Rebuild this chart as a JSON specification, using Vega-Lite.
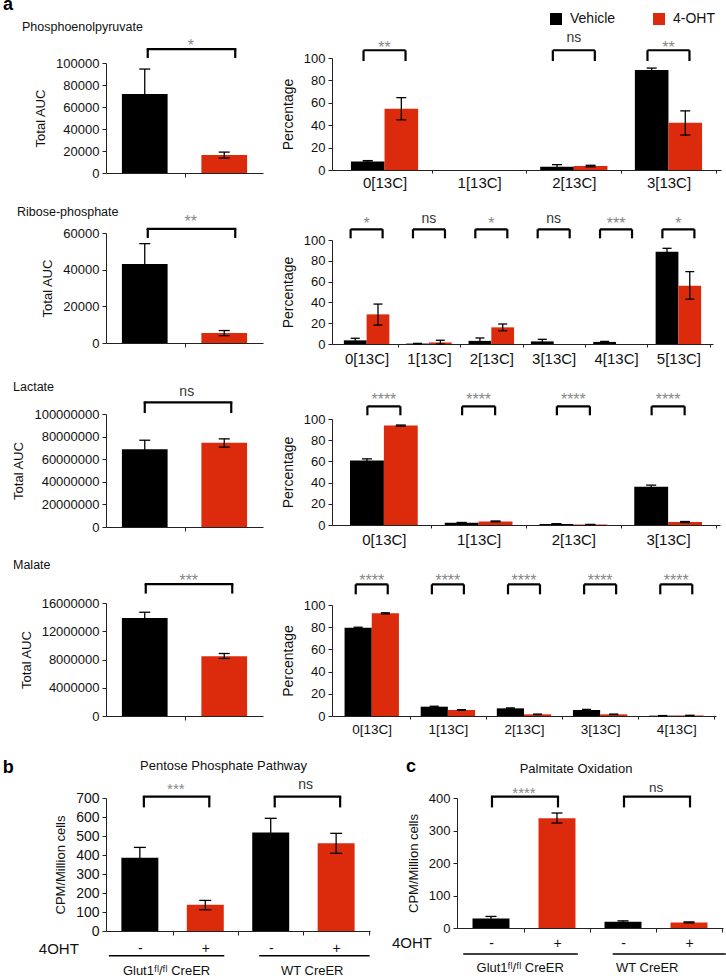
{
  "$schema": "https://vega.github.io/schema/vega-lite/v6.json",
  "padding": {"left": 2, "top": -4, "right": 2, "bottom": 2},
  "title": {"text": "a", "anchor": "start", "frame": "group", "dx": -103, "offset": -2, "fontSize": 18, "fontWeight": "bold", "color": "#000"},
  "config": {
    "font": "Liberation Sans",
    "view": {"stroke": null},
    "axis": {"grid": false, "domainColor": "#222", "tickColor": "#222", "labelColor": "#111", "titleColor": "#111", "titleFontWeight": "normal", "labelFont": "Liberation Sans", "titleFont": "Liberation Sans", "tickSize": 4, "labelPadding": 3, "labelFontSize": 13, "titleFontSize": 13, "titlePadding": 8, "labelAngle": 0, "labelOverlap": false},
    "title": {"font": "Liberation Sans", "fontWeight": "normal", "color": "#111", "fontSize": 12.5, "anchor": "start", "frame": "group"},
    "text": {"font": "Liberation Sans"},
    "tick": {"opacity": 1}
  },
  "datasets": {
    "pep_auc": [{"group": "Vehicle", "v": 71800, "lo": 49100, "hi": 94500}, {"group": "4-OHT", "v": 16300, "lo": 13600, "hi": 19000}],
    "pep_sig": [{"from": "Vehicle", "to": "4-OHT", "sig": "*"}],
    "rib_auc": [{"group": "Vehicle", "v": 43100, "lo": 32000, "hi": 54200}, {"group": "4-OHT", "v": 5400, "lo": 4000, "hi": 6800}],
    "rib_sig": [{"from": "Vehicle", "to": "4-OHT", "sig": "**"}],
    "lac_auc": [{"group": "Vehicle", "v": 68700000, "lo": 60600000, "hi": 76800000}, {"group": "4-OHT", "v": 74500000, "lo": 70700000, "hi": 78000000}],
    "lac_sig": [{"from": "Vehicle", "to": "4-OHT", "sig": "ns"}],
    "mal_auc": [{"group": "Vehicle", "v": 13880000, "lo": 13070000, "hi": 14690000}, {"group": "4-OHT", "v": 8470000, "lo": 8150000, "hi": 8850000}],
    "mal_sig": [{"from": "Vehicle", "to": "4-OHT", "sig": "***"}],
    "pep_pct": [
      {"cat": "0[13C]", "group": "Vehicle", "v": 7.7, "lo": 7.0, "hi": 8.4},
      {"cat": "0[13C]", "group": "4-OHT", "v": 54.6, "lo": 44.8, "hi": 64.6},
      {"cat": "1[13C]", "group": "Vehicle", "v": 0},
      {"cat": "1[13C]", "group": "4-OHT", "v": 0},
      {"cat": "2[13C]", "group": "Vehicle", "v": 3.0, "lo": 1.5, "hi": 4.8},
      {"cat": "2[13C]", "group": "4-OHT", "v": 3.5, "lo": 2.8, "hi": 4.2},
      {"cat": "3[13C]", "group": "Vehicle", "v": 89.3, "lo": 87.6, "hi": 91.0},
      {"cat": "3[13C]", "group": "4-OHT", "v": 42.1, "lo": 31.2, "hi": 52.8}
    ],
    "pep_psig": [{"cat": "0[13C]", "sig": "**"}, {"cat": "2[13C]", "sig": "ns"}, {"cat": "3[13C]", "sig": "**"}],
    "rib_pct": [
      {"cat": "0[13C]", "group": "Vehicle", "v": 3.5, "lo": 1.5, "hi": 5.5},
      {"cat": "0[13C]", "group": "4-OHT", "v": 28.5, "lo": 18.2, "hi": 38.4},
      {"cat": "1[13C]", "group": "Vehicle", "v": 0.4, "lo": 0.2, "hi": 0.6},
      {"cat": "1[13C]", "group": "4-OHT", "v": 1.5, "lo": 0, "hi": 3.6},
      {"cat": "2[13C]", "group": "Vehicle", "v": 3.0, "lo": 0.5, "hi": 5.8},
      {"cat": "2[13C]", "group": "4-OHT", "v": 16.0, "lo": 12.8, "hi": 19.2},
      {"cat": "3[13C]", "group": "Vehicle", "v": 2.5, "lo": 1.0, "hi": 4.5},
      {"cat": "3[13C]", "group": "4-OHT", "v": 0},
      {"cat": "4[13C]", "group": "Vehicle", "v": 2.0, "lo": 1.5, "hi": 2.5},
      {"cat": "4[13C]", "group": "4-OHT", "v": 0},
      {"cat": "5[13C]", "group": "Vehicle", "v": 88.8, "lo": 85.6, "hi": 92.0},
      {"cat": "5[13C]", "group": "4-OHT", "v": 55.9, "lo": 43.1, "hi": 69.6}
    ],
    "rib_psig": [{"cat": "0[13C]", "sig": "*"}, {"cat": "1[13C]", "sig": "ns"}, {"cat": "2[13C]", "sig": "*"}, {"cat": "3[13C]", "sig": "ns"}, {"cat": "4[13C]", "sig": "***"}, {"cat": "5[13C]", "sig": "*"}],
    "lac_pct": [
      {"cat": "0[13C]", "group": "Vehicle", "v": 60.9, "lo": 59.4, "hi": 62.4},
      {"cat": "0[13C]", "group": "4-OHT", "v": 93.8, "lo": 93.3, "hi": 94.3},
      {"cat": "1[13C]", "group": "Vehicle", "v": 2.2, "lo": 2.0, "hi": 2.4},
      {"cat": "1[13C]", "group": "4-OHT", "v": 3.4, "lo": 3.0, "hi": 3.8},
      {"cat": "2[13C]", "group": "Vehicle", "v": 1.0, "lo": 0.8, "hi": 1.2},
      {"cat": "2[13C]", "group": "4-OHT", "v": 0.5, "lo": 0.4, "hi": 0.6},
      {"cat": "3[13C]", "group": "Vehicle", "v": 36.1, "lo": 34.6, "hi": 37.6},
      {"cat": "3[13C]", "group": "4-OHT", "v": 2.8, "lo": 2.3, "hi": 3.3}
    ],
    "lac_psig": [{"cat": "0[13C]", "sig": "****"}, {"cat": "1[13C]", "sig": "****"}, {"cat": "2[13C]", "sig": "****"}, {"cat": "3[13C]", "sig": "****"}],
    "mal_pct": [
      {"cat": "0[13C]", "group": "Vehicle", "v": 79.5, "lo": 79.0, "hi": 80.0},
      {"cat": "0[13C]", "group": "4-OHT", "v": 92.5, "lo": 92.0, "hi": 93.0},
      {"cat": "1[13C]", "group": "Vehicle", "v": 8.4, "lo": 8.0, "hi": 8.8},
      {"cat": "1[13C]", "group": "4-OHT", "v": 5.4, "lo": 5.1, "hi": 5.7},
      {"cat": "2[13C]", "group": "Vehicle", "v": 6.9, "lo": 6.5, "hi": 7.3},
      {"cat": "2[13C]", "group": "4-OHT", "v": 1.5, "lo": 1.3, "hi": 1.7},
      {"cat": "3[13C]", "group": "Vehicle", "v": 5.4, "lo": 4.9, "hi": 5.9},
      {"cat": "3[13C]", "group": "4-OHT", "v": 1.5, "lo": 1.3, "hi": 1.7},
      {"cat": "4[13C]", "group": "Vehicle", "v": 0.3, "lo": 0.2, "hi": 0.4},
      {"cat": "4[13C]", "group": "4-OHT", "v": 0.5, "lo": 0.4, "hi": 0.6}
    ],
    "mal_psig": [{"cat": "0[13C]", "sig": "****"}, {"cat": "1[13C]", "sig": "****"}, {"cat": "2[13C]", "sig": "****"}, {"cat": "3[13C]", "sig": "****"}, {"cat": "4[13C]", "sig": "****"}],
    "ppp": [
      {"cond": "Glut1-", "group": "Vehicle", "v": 385, "lo": 330, "hi": 440},
      {"cond": "Glut1+", "group": "4-OHT", "v": 138, "lo": 112, "hi": 161},
      {"cond": "WT-", "group": "Vehicle", "v": 519, "lo": 445, "hi": 593},
      {"cond": "WT+", "group": "4-OHT", "v": 462, "lo": 409, "hi": 514}
    ],
    "ppp_sig": [{"from": "Glut1-", "to": "Glut1+", "sig": "***"}, {"from": "WT-", "to": "WT+", "sig": "ns"}],
    "pal": [
      {"cond": "Glut1-", "group": "Vehicle", "v": 29.5, "lo": 24, "hi": 35.6},
      {"cond": "Glut1+", "group": "4-OHT", "v": 338, "lo": 323, "hi": 353.8},
      {"cond": "WT-", "group": "Vehicle", "v": 19.4, "lo": 17, "hi": 22},
      {"cond": "WT+", "group": "4-OHT", "v": 17.3, "lo": 15.8, "hi": 18.8}
    ],
    "pal_sig": [{"from": "Glut1-", "to": "Glut1+", "sig": "****"}, {"from": "WT-", "to": "WT+", "sig": "ns"}],
    "geno": [{"from": "Glut1-", "to": "Glut1+", "name": "Glut1ᶠˡ/ᶠˡ CreER"}, {"from": "WT-", "to": "WT+", "name": "WT CreER"}]
  },
  "resolve": {"scale": {"xOffset": "independent"}, "legend": {"color": "independent"}},
  "spacing": 21,
  "vconcat": [
    {
      "columns": 2,
      "spacing": {"row": 60, "column": 69},
      "bounds": "flush",
      "align": "each",
      "resolve": {"scale": {"xOffset": "independent"}, "legend": {"color": "independent"}},
      "concat": [
        {
          "width": 157, "height": 115,
          "title": {"text": "Phosphoenolpyruvate", "dx": -84, "offset": 4.3},
          "layer": [
            {"data": {"name": "pep_auc"}, "mark": "bar", "encoding": {
              "x": {"field": "group", "type": "nominal", "scale": {"domain": ["Vehicle", "4-OHT"], "paddingInner": 0.425, "paddingOuter": 0.2}, "axis": {"labels": false, "title": null, "values": ["Vehicle"], "tickOffset": 40}},
              "y": {"field": "v", "type": "quantitative", "scale": {"domain": [0, 100000], "nice": false, "range": [115, 5]}, "axis": {"title": "Total AUC", "values": [0, 20000, 40000, 60000, 80000, 100000], "tickCount": 20, "labelOverlap": false, "format": "d"}},
              "color": {"field": "group", "type": "nominal", "scale": {"domain": ["Vehicle", "4-OHT"], "range": ["#000000", "#dc2a0c"]}, "legend": null}}},
            {"data": {"name": "pep_auc"}, "mark": {"type": "rule", "color": "#000", "strokeWidth": 1.3}, "encoding": {"x": {"field": "group", "type": "nominal"}, "y": {"field": "lo", "type": "quantitative"}, "y2": {"field": "hi"}}},
            {"data": {"name": "pep_auc"}, "mark": {"type": "tick", "orient": "horizontal", "color": "#000", "size": 11, "thickness": 1.3}, "encoding": {"x": {"field": "group", "type": "nominal"}, "y": {"field": "hi", "type": "quantitative"}}},
            {"data": {"name": "pep_auc"}, "mark": {"type": "tick", "orient": "horizontal", "color": "#000", "size": 11, "thickness": 1.3}, "encoding": {"x": {"field": "group", "type": "nominal"}, "y": {"field": "lo", "type": "quantitative"}}},
            {"data": {"name": "pep_sig"}, "mark": {"type": "rule", "color": "#000", "strokeWidth": 2.2, "strokeCap": "square", "xOffset": 3, "x2Offset": 11}, "encoding": {"x": {"field": "from", "type": "nominal"}, "x2": {"field": "to"}, "y": {"datum": 112700}}},
            {"data": {"name": "pep_sig"}, "mark": {"type": "rule", "color": "#000", "strokeWidth": 2.2, "xOffset": 3}, "encoding": {"x": {"field": "from", "type": "nominal"}, "y": {"datum": 104500}, "y2": {"datum": 112700}}},
            {"data": {"name": "pep_sig"}, "mark": {"type": "rule", "color": "#000", "strokeWidth": 2.2, "xOffset": 11}, "encoding": {"x": {"field": "to", "type": "nominal"}, "y": {"datum": 104500}, "y2": {"datum": 112700}}},
            {"data": {"name": "pep_sig"}, "transform": [{"filter": "datum.sig != 'ns'"}], "mark": {"type": "text", "fontSize": 16, "color": "#888", "dx": 46, "dy": 5}, "encoding": {"x": {"field": "from", "type": "nominal"}, "y": {"datum": 120000}, "text": {"field": "sig"}}}
          ]
        },
        {
          "width": 389, "height": 112,
          "layer": [
            {"data": {"name": "pep_pct"}, "mark": "bar", "encoding": {
              "x": {"field": "cat", "type": "nominal", "scale": {"domain": ["0[13C]", "1[13C]", "2[13C]", "3[13C]"], "paddingInner": 0.29, "paddingOuter": 0.2}, "axis": {"title": null, "tickSize": 3, "tickOffset": 47.3, "labelOffset": -47.3, "labelPadding": 2, "labelFontSize": 15}},
              "xOffset": {"field": "group", "type": "nominal", "scale": {"domain": ["Vehicle", "4-OHT"], "paddingInner": 0, "paddingOuter": 0}},
              "y": {"field": "v", "type": "quantitative", "scale": {"domain": [0, 100], "nice": false}, "axis": {"title": "Percentage", "titleFontSize": 14, "values": [0, 20, 40, 60, 80, 100], "tickCount": 20, "labelOverlap": false}},
              "color": {"field": "group", "type": "nominal", "scale": {"domain": ["Vehicle", "4-OHT"], "range": ["#000000", "#dc2a0c"]}, "legend": {"orient": "none", "legendX": 217, "legendY": -46, "direction": "horizontal", "title": null, "symbolType": "square", "symbolSize": 144, "symbolStrokeWidth": 0, "labelFontSize": 14, "labelFont": "Liberation Sans", "labelColor": "#111", "labelOffset": 7, "columnPadding": 36}}}},
            {"data": {"name": "pep_pct"}, "mark": {"type": "rule", "color": "#000", "strokeWidth": 1.3}, "encoding": {"x": {"field": "cat", "type": "nominal"}, "xOffset": {"field": "group", "type": "nominal"}, "y": {"field": "lo", "type": "quantitative"}, "y2": {"field": "hi"}}},
            {"data": {"name": "pep_pct"}, "mark": {"type": "tick", "orient": "horizontal", "color": "#000", "size": 10, "thickness": 1.3}, "encoding": {"x": {"field": "cat", "type": "nominal"}, "xOffset": {"field": "group", "type": "nominal"}, "y": {"field": "hi", "type": "quantitative"}}},
            {"data": {"name": "pep_pct"}, "mark": {"type": "tick", "orient": "horizontal", "color": "#000", "size": 10, "thickness": 1.3}, "encoding": {"x": {"field": "cat", "type": "nominal"}, "xOffset": {"field": "group", "type": "nominal"}, "y": {"field": "lo", "type": "quantitative"}}},
            {"data": {"name": "pep_psig"}, "mark": {"type": "tick", "orient": "horizontal", "color": "#000", "size": 42, "thickness": 2.2}, "encoding": {"x": {"field": "cat", "type": "nominal"}, "y": {"datum": 106.9}}},
            {"data": {"name": "pep_psig"}, "mark": {"type": "rule", "color": "#000", "strokeWidth": 2.2, "xOffset": -21}, "encoding": {"x": {"field": "cat", "type": "nominal"}, "y": {"datum": 97.3}, "y2": {"datum": 106.9}}},
            {"data": {"name": "pep_psig"}, "mark": {"type": "rule", "color": "#000", "strokeWidth": 2.2, "xOffset": 21}, "encoding": {"x": {"field": "cat", "type": "nominal"}, "y": {"datum": 97.3}, "y2": {"datum": 106.9}}},
            {"data": {"name": "pep_psig"}, "transform": [{"filter": "datum.sig != 'ns'"}], "mark": {"type": "text", "fontSize": 16, "color": "#888", "dy": 5}, "encoding": {"x": {"field": "cat", "type": "nominal"}, "y": {"datum": 113.6}, "text": {"field": "sig"}}},
            {"data": {"name": "pep_psig"}, "transform": [{"filter": "datum.sig == 'ns'"}], "mark": {"type": "text", "fontSize": 14, "color": "#333"}, "encoding": {"x": {"field": "cat", "type": "nominal"}, "y": {"datum": 117.8}, "text": {"field": "sig"}}}
          ]
        },
        {
          "width": 157, "height": 110,
          "title": {"text": "Ribose-phosphate", "dx": -89, "offset": -4.4},
          "layer": [
            {"data": {"name": "rib_auc"}, "mark": "bar", "encoding": {
              "x": {"field": "group", "type": "nominal", "scale": {"domain": ["Vehicle", "4-OHT"], "paddingInner": 0.425, "paddingOuter": 0.2}, "axis": {"labels": false, "title": null, "values": ["Vehicle"], "tickOffset": 40}},
              "y": {"field": "v", "type": "quantitative", "scale": {"domain": [0, 60000], "nice": false}, "axis": {"title": "Total AUC", "values": [0, 20000, 40000, 60000], "tickCount": 20, "labelOverlap": false, "format": "d"}},
              "color": {"field": "group", "type": "nominal", "scale": {"domain": ["Vehicle", "4-OHT"], "range": ["#000000", "#dc2a0c"]}, "legend": null}}},
            {"data": {"name": "rib_auc"}, "mark": {"type": "rule", "color": "#000", "strokeWidth": 1.3}, "encoding": {"x": {"field": "group", "type": "nominal"}, "y": {"field": "lo", "type": "quantitative"}, "y2": {"field": "hi"}}},
            {"data": {"name": "rib_auc"}, "mark": {"type": "tick", "orient": "horizontal", "color": "#000", "size": 11, "thickness": 1.3}, "encoding": {"x": {"field": "group", "type": "nominal"}, "y": {"field": "hi", "type": "quantitative"}}},
            {"data": {"name": "rib_auc"}, "mark": {"type": "tick", "orient": "horizontal", "color": "#000", "size": 11, "thickness": 1.3}, "encoding": {"x": {"field": "group", "type": "nominal"}, "y": {"field": "lo", "type": "quantitative"}}},
            {"data": {"name": "rib_sig"}, "mark": {"type": "rule", "color": "#000", "strokeWidth": 2.2, "strokeCap": "square", "xOffset": 3, "x2Offset": 11}, "encoding": {"x": {"field": "from", "type": "nominal"}, "x2": {"field": "to"}, "y": {"datum": 62200}}},
            {"data": {"name": "rib_sig"}, "mark": {"type": "rule", "color": "#000", "strokeWidth": 2.2, "xOffset": 3}, "encoding": {"x": {"field": "from", "type": "nominal"}, "y": {"datum": 57300}, "y2": {"datum": 62200}}},
            {"data": {"name": "rib_sig"}, "mark": {"type": "rule", "color": "#000", "strokeWidth": 2.2, "xOffset": 11}, "encoding": {"x": {"field": "to", "type": "nominal"}, "y": {"datum": 57300}, "y2": {"datum": 62200}}},
            {"data": {"name": "rib_sig"}, "transform": [{"filter": "datum.sig != 'ns'"}], "mark": {"type": "text", "fontSize": 16, "color": "#888", "dx": 46, "dy": 5}, "encoding": {"x": {"field": "from", "type": "nominal"}, "y": {"datum": 68560}, "text": {"field": "sig"}}}
          ]
        },
        {
          "width": 381, "height": 111,
          "layer": [
            {"data": {"name": "rib_pct"}, "mark": "bar", "encoding": {
              "x": {"field": "cat", "type": "nominal", "scale": {"domain": ["0[13C]", "1[13C]", "2[13C]", "3[13C]", "4[13C]", "5[13C]"], "paddingInner": 0.27, "paddingOuter": 0.19}, "axis": {"title": null, "tickSize": 3, "tickOffset": 31.2, "labelOffset": -31.2, "labelPadding": 4, "labelFontSize": 15}},
              "xOffset": {"field": "group", "type": "nominal", "scale": {"domain": ["Vehicle", "4-OHT"], "paddingInner": 0, "paddingOuter": 0}},
              "y": {"field": "v", "type": "quantitative", "scale": {"domain": [0, 100], "nice": false, "range": [111, 7]}, "axis": {"title": "Percentage", "titleFontSize": 14, "values": [0, 20, 40, 60, 80, 100], "tickCount": 20, "labelOverlap": false}},
              "color": {"field": "group", "type": "nominal", "scale": {"domain": ["Vehicle", "4-OHT"], "range": ["#000000", "#dc2a0c"]}, "legend": null}}},
            {"data": {"name": "rib_pct"}, "mark": {"type": "rule", "color": "#000", "strokeWidth": 1.3}, "encoding": {"x": {"field": "cat", "type": "nominal"}, "xOffset": {"field": "group", "type": "nominal"}, "y": {"field": "lo", "type": "quantitative"}, "y2": {"field": "hi"}}},
            {"data": {"name": "rib_pct"}, "mark": {"type": "tick", "orient": "horizontal", "color": "#000", "size": 9, "thickness": 1.3}, "encoding": {"x": {"field": "cat", "type": "nominal"}, "xOffset": {"field": "group", "type": "nominal"}, "y": {"field": "hi", "type": "quantitative"}}},
            {"data": {"name": "rib_pct"}, "mark": {"type": "tick", "orient": "horizontal", "color": "#000", "size": 9, "thickness": 1.3}, "encoding": {"x": {"field": "cat", "type": "nominal"}, "xOffset": {"field": "group", "type": "nominal"}, "y": {"field": "lo", "type": "quantitative"}}},
            {"data": {"name": "rib_psig"}, "mark": {"type": "tick", "orient": "horizontal", "color": "#000", "size": 32, "thickness": 2.2}, "encoding": {"x": {"field": "cat", "type": "nominal"}, "y": {"datum": 110.3}}},
            {"data": {"name": "rib_psig"}, "mark": {"type": "rule", "color": "#000", "strokeWidth": 2.2, "xOffset": -16}, "encoding": {"x": {"field": "cat", "type": "nominal"}, "y": {"datum": 101.6}, "y2": {"datum": 110.3}}},
            {"data": {"name": "rib_psig"}, "mark": {"type": "rule", "color": "#000", "strokeWidth": 2.2, "xOffset": 16}, "encoding": {"x": {"field": "cat", "type": "nominal"}, "y": {"datum": 101.6}, "y2": {"datum": 110.3}}},
            {"data": {"name": "rib_psig"}, "transform": [{"filter": "datum.sig != 'ns'"}], "mark": {"type": "text", "fontSize": 16, "color": "#888", "dy": 5}, "encoding": {"x": {"field": "cat", "type": "nominal"}, "y": {"datum": 119.8}, "text": {"field": "sig"}}},
            {"data": {"name": "rib_psig"}, "transform": [{"filter": "datum.sig == 'ns'"}], "mark": {"type": "text", "fontSize": 14, "color": "#333"}, "encoding": {"x": {"field": "cat", "type": "nominal"}, "y": {"datum": 119.8}, "text": {"field": "sig"}}}
          ]
        },
        {
          "width": 157, "height": 123,
          "title": {"text": "Lactate", "dx": -93, "offset": -8.6},
          "layer": [
            {"data": {"name": "lac_auc"}, "mark": "bar", "encoding": {
              "x": {"field": "group", "type": "nominal", "scale": {"domain": ["Vehicle", "4-OHT"], "paddingInner": 0.425, "paddingOuter": 0.2}, "axis": {"labels": false, "title": null, "values": ["Vehicle"], "tickOffset": 40}},
              "y": {"field": "v", "type": "quantitative", "scale": {"domain": [0, 100000000], "nice": false, "range": [123, 10]}, "axis": {"title": "Total AUC", "values": [0, 20000000, 40000000, 60000000, 80000000, 100000000], "tickCount": 20, "labelOverlap": false, "format": "d"}},
              "color": {"field": "group", "type": "nominal", "scale": {"domain": ["Vehicle", "4-OHT"], "range": ["#000000", "#dc2a0c"]}, "legend": null}}},
            {"data": {"name": "lac_auc"}, "mark": {"type": "rule", "color": "#000", "strokeWidth": 1.3}, "encoding": {"x": {"field": "group", "type": "nominal"}, "y": {"field": "lo", "type": "quantitative"}, "y2": {"field": "hi"}}},
            {"data": {"name": "lac_auc"}, "mark": {"type": "tick", "orient": "horizontal", "color": "#000", "size": 11, "thickness": 1.3}, "encoding": {"x": {"field": "group", "type": "nominal"}, "y": {"field": "hi", "type": "quantitative"}}},
            {"data": {"name": "lac_auc"}, "mark": {"type": "tick", "orient": "horizontal", "color": "#000", "size": 11, "thickness": 1.3}, "encoding": {"x": {"field": "group", "type": "nominal"}, "y": {"field": "lo", "type": "quantitative"}}},
            {"data": {"name": "lac_sig"}, "mark": {"type": "rule", "color": "#000", "strokeWidth": 2.2, "strokeCap": "square", "xOffset": 0, "x2Offset": 7}, "encoding": {"x": {"field": "from", "type": "nominal"}, "x2": {"field": "to"}, "y": {"datum": 110300000}}},
            {"data": {"name": "lac_sig"}, "mark": {"type": "rule", "color": "#000", "strokeWidth": 2.2, "xOffset": 0}, "encoding": {"x": {"field": "from", "type": "nominal"}, "y": {"datum": 100900000}, "y2": {"datum": 110300000}}},
            {"data": {"name": "lac_sig"}, "mark": {"type": "rule", "color": "#000", "strokeWidth": 2.2, "xOffset": 7}, "encoding": {"x": {"field": "to", "type": "nominal"}, "y": {"datum": 100900000}, "y2": {"datum": 110300000}}},
            {"data": {"name": "lac_sig"}, "transform": [{"filter": "datum.sig == 'ns'"}], "mark": {"type": "text", "fontSize": 14, "color": "#333", "dx": 42}, "encoding": {"x": {"field": "from", "type": "nominal"}, "y": {"datum": 119400000}, "text": {"field": "sig"}}}
          ]
        },
        {
          "width": 388, "height": 121,
          "layer": [
            {"data": {"name": "lac_pct"}, "mark": "bar", "encoding": {
              "x": {"field": "cat", "type": "nominal", "scale": {"domain": ["0[13C]", "1[13C]", "2[13C]", "3[13C]"], "paddingInner": 0.285, "paddingOuter": 0.19}, "axis": {"title": null, "tickSize": 3, "tickOffset": 47.4, "labelOffset": -47.4, "labelPadding": 4, "labelFontSize": 15}},
              "xOffset": {"field": "group", "type": "nominal", "scale": {"domain": ["Vehicle", "4-OHT"], "paddingInner": 0, "paddingOuter": 0}},
              "y": {"field": "v", "type": "quantitative", "scale": {"domain": [0, 100], "nice": false, "range": [121, 15]}, "axis": {"title": "Percentage", "titleFontSize": 14, "values": [0, 20, 40, 60, 80, 100], "tickCount": 20, "labelOverlap": false}},
              "color": {"field": "group", "type": "nominal", "scale": {"domain": ["Vehicle", "4-OHT"], "range": ["#000000", "#dc2a0c"]}, "legend": null}}},
            {"data": {"name": "lac_pct"}, "mark": {"type": "rule", "color": "#000", "strokeWidth": 1.3}, "encoding": {"x": {"field": "cat", "type": "nominal"}, "xOffset": {"field": "group", "type": "nominal"}, "y": {"field": "lo", "type": "quantitative"}, "y2": {"field": "hi"}}},
            {"data": {"name": "lac_pct"}, "mark": {"type": "tick", "orient": "horizontal", "color": "#000", "size": 10, "thickness": 1.3}, "encoding": {"x": {"field": "cat", "type": "nominal"}, "xOffset": {"field": "group", "type": "nominal"}, "y": {"field": "hi", "type": "quantitative"}}},
            {"data": {"name": "lac_pct"}, "mark": {"type": "tick", "orient": "horizontal", "color": "#000", "size": 10, "thickness": 1.3}, "encoding": {"x": {"field": "cat", "type": "nominal"}, "xOffset": {"field": "group", "type": "nominal"}, "y": {"field": "lo", "type": "quantitative"}}},
            {"data": {"name": "lac_psig"}, "mark": {"type": "tick", "orient": "horizontal", "color": "#000", "size": 33, "thickness": 2.2}, "encoding": {"x": {"field": "cat", "type": "nominal"}, "y": {"datum": 112}}},
            {"data": {"name": "lac_psig"}, "mark": {"type": "rule", "color": "#000", "strokeWidth": 2.2, "xOffset": -16.5}, "encoding": {"x": {"field": "cat", "type": "nominal"}, "y": {"datum": 103.5}, "y2": {"datum": 112}}},
            {"data": {"name": "lac_psig"}, "mark": {"type": "rule", "color": "#000", "strokeWidth": 2.2, "xOffset": 16.5}, "encoding": {"x": {"field": "cat", "type": "nominal"}, "y": {"datum": 103.5}, "y2": {"datum": 112}}},
            {"data": {"name": "lac_psig"}, "mark": {"type": "text", "fontSize": 16, "color": "#888", "dy": 5}, "encoding": {"x": {"field": "cat", "type": "nominal"}, "y": {"datum": 123}, "text": {"field": "sig"}}}
          ]
        },
        {
          "width": 157, "height": 129,
          "title": {"text": "Malate", "dx": -93, "offset": 1.4},
          "layer": [
            {"data": {"name": "mal_auc"}, "mark": "bar", "encoding": {
              "x": {"field": "group", "type": "nominal", "scale": {"domain": ["Vehicle", "4-OHT"], "paddingInner": 0.425, "paddingOuter": 0.2}, "axis": {"labels": false, "title": null, "values": ["Vehicle"], "tickOffset": 40}},
              "y": {"field": "v", "type": "quantitative", "scale": {"domain": [0, 16000000], "nice": false, "range": [129, 16]}, "axis": {"title": "Total AUC", "values": [0, 4000000, 8000000, 12000000, 16000000], "tickCount": 20, "labelOverlap": false, "format": "d"}},
              "color": {"field": "group", "type": "nominal", "scale": {"domain": ["Vehicle", "4-OHT"], "range": ["#000000", "#dc2a0c"]}, "legend": null}}},
            {"data": {"name": "mal_auc"}, "mark": {"type": "rule", "color": "#000", "strokeWidth": 1.3}, "encoding": {"x": {"field": "group", "type": "nominal"}, "y": {"field": "lo", "type": "quantitative"}, "y2": {"field": "hi"}}},
            {"data": {"name": "mal_auc"}, "mark": {"type": "tick", "orient": "horizontal", "color": "#000", "size": 11, "thickness": 1.3}, "encoding": {"x": {"field": "group", "type": "nominal"}, "y": {"field": "hi", "type": "quantitative"}}},
            {"data": {"name": "mal_auc"}, "mark": {"type": "tick", "orient": "horizontal", "color": "#000", "size": 11, "thickness": 1.3}, "encoding": {"x": {"field": "group", "type": "nominal"}, "y": {"field": "lo", "type": "quantitative"}}},
            {"data": {"name": "mal_sig"}, "mark": {"type": "rule", "color": "#000", "strokeWidth": 2.2, "strokeCap": "square", "xOffset": 1, "x2Offset": 8}, "encoding": {"x": {"field": "from", "type": "nominal"}, "x2": {"field": "to"}, "y": {"datum": 18680000}}},
            {"data": {"name": "mal_sig"}, "mark": {"type": "rule", "color": "#000", "strokeWidth": 2.2, "xOffset": 1}, "encoding": {"x": {"field": "from", "type": "nominal"}, "y": {"datum": 17330000}, "y2": {"datum": 18680000}}},
            {"data": {"name": "mal_sig"}, "mark": {"type": "rule", "color": "#000", "strokeWidth": 2.2, "xOffset": 8}, "encoding": {"x": {"field": "to", "type": "nominal"}, "y": {"datum": 17330000}, "y2": {"datum": 18680000}}},
            {"data": {"name": "mal_sig"}, "mark": {"type": "text", "fontSize": 16, "color": "#888", "dx": 44, "dy": 5}, "encoding": {"x": {"field": "from", "type": "nominal"}, "y": {"datum": 19770000}, "text": {"field": "sig"}}}
          ]
        },
        {
          "width": 384, "height": 129,
          "layer": [
            {"data": {"name": "mal_pct"}, "mark": "bar", "encoding": {
              "x": {"field": "cat", "type": "nominal", "scale": {"domain": ["0[13C]", "1[13C]", "2[13C]", "3[13C]", "4[13C]"], "paddingInner": 0.286, "paddingOuter": 0.165}, "axis": {"title": null, "tickSize": 3, "tickOffset": 38.1, "labelOffset": -38.1, "labelPadding": 3, "labelFontSize": 13.5}},
              "xOffset": {"field": "group", "type": "nominal", "scale": {"domain": ["Vehicle", "4-OHT"], "paddingInner": 0, "paddingOuter": 0}},
              "y": {"field": "v", "type": "quantitative", "scale": {"domain": [0, 100], "nice": false, "range": [129, 18]}, "axis": {"title": "Percentage", "titleFontSize": 14, "values": [0, 20, 40, 60, 80, 100], "tickCount": 20, "labelOverlap": false}},
              "color": {"field": "group", "type": "nominal", "scale": {"domain": ["Vehicle", "4-OHT"], "range": ["#000000", "#dc2a0c"]}, "legend": null}}},
            {"data": {"name": "mal_pct"}, "mark": {"type": "rule", "color": "#000", "strokeWidth": 1.3}, "encoding": {"x": {"field": "cat", "type": "nominal"}, "xOffset": {"field": "group", "type": "nominal"}, "y": {"field": "lo", "type": "quantitative"}, "y2": {"field": "hi"}}},
            {"data": {"name": "mal_pct"}, "mark": {"type": "tick", "orient": "horizontal", "color": "#000", "size": 9, "thickness": 1.3}, "encoding": {"x": {"field": "cat", "type": "nominal"}, "xOffset": {"field": "group", "type": "nominal"}, "y": {"field": "hi", "type": "quantitative"}}},
            {"data": {"name": "mal_pct"}, "mark": {"type": "tick", "orient": "horizontal", "color": "#000", "size": 9, "thickness": 1.3}, "encoding": {"x": {"field": "cat", "type": "nominal"}, "xOffset": {"field": "group", "type": "nominal"}, "y": {"field": "lo", "type": "quantitative"}}},
            {"data": {"name": "mal_psig"}, "mark": {"type": "tick", "orient": "horizontal", "color": "#000", "size": 32, "thickness": 2.2}, "encoding": {"x": {"field": "cat", "type": "nominal"}, "y": {"datum": 118.6}}},
            {"data": {"name": "mal_psig"}, "mark": {"type": "rule", "color": "#000", "strokeWidth": 2.2, "xOffset": -16}, "encoding": {"x": {"field": "cat", "type": "nominal"}, "y": {"datum": 109.6}, "y2": {"datum": 118.6}}},
            {"data": {"name": "mal_psig"}, "mark": {"type": "rule", "color": "#000", "strokeWidth": 2.2, "xOffset": 16}, "encoding": {"x": {"field": "cat", "type": "nominal"}, "y": {"datum": 109.6}, "y2": {"datum": 118.6}}},
            {"data": {"name": "mal_psig"}, "mark": {"type": "text", "fontSize": 16, "color": "#888", "dy": 5}, "encoding": {"x": {"field": "cat", "type": "nominal"}, "y": {"datum": 126}, "text": {"field": "sig"}}}
          ]
        }
      ]
    },
    {
      "spacing": 87,
      "bounds": "flush",
      "resolve": {"legend": {"color": "independent"}},
      "hconcat": [
        {
          "width": 264, "height": 133,
          "title": {"text": "Pentose Phosphate Pathway", "anchor": "middle", "dx": -14.5, "offset": -13.8, "fontSize": 13},
          "layer": [
            {"data": {"name": "ppp"}, "mark": "bar", "encoding": {
              "x": {"field": "cond", "type": "nominal", "scale": {"domain": ["Glut1-", "Glut1+", "WT-", "WT+"], "paddingInner": 0.435, "paddingOuter": 0.235}, "axis": {"title": null, "tickSize": 4, "tickOffset": 32.7, "labelOffset": -32.7, "labelPadding": 6, "labelFontSize": 14, "labelExpr": "indexof(datum.value, '+') >= 0 ? '+' : '-'"}},
              "y": {"field": "v", "type": "quantitative", "scale": {"domain": [0, 700], "nice": false}, "axis": {"title": "CPM/Million cells", "values": [0, 100, 200, 300, 400, 500, 600, 700], "tickCount": 20, "labelOverlap": false, "labelFontSize": 14}},
              "color": {"field": "group", "type": "nominal", "scale": {"domain": ["Vehicle", "4-OHT"], "range": ["#000000", "#dc2a0c"]}, "legend": null}}},
            {"data": {"name": "ppp"}, "mark": {"type": "rule", "color": "#000", "strokeWidth": 1.3}, "encoding": {"x": {"field": "cond", "type": "nominal"}, "y": {"field": "lo", "type": "quantitative"}, "y2": {"field": "hi"}}},
            {"data": {"name": "ppp"}, "mark": {"type": "tick", "orient": "horizontal", "color": "#000", "size": 12, "thickness": 1.3}, "encoding": {"x": {"field": "cond", "type": "nominal"}, "y": {"field": "hi", "type": "quantitative"}}},
            {"data": {"name": "ppp"}, "mark": {"type": "tick", "orient": "horizontal", "color": "#000", "size": 12, "thickness": 1.3}, "encoding": {"x": {"field": "cond", "type": "nominal"}, "y": {"field": "lo", "type": "quantitative"}}},
            {"data": {"name": "ppp_sig"}, "mark": {"type": "rule", "color": "#000", "strokeWidth": 2.2, "strokeCap": "square", "xOffset": 4, "x2Offset": 4}, "encoding": {"x": {"field": "from", "type": "nominal"}, "x2": {"field": "to"}, "y": {"datum": 706.8}}},
            {"data": {"name": "ppp_sig"}, "mark": {"type": "rule", "color": "#000", "strokeWidth": 2.2, "xOffset": 4}, "encoding": {"x": {"field": "from", "type": "nominal"}, "y": {"datum": 650.5}, "y2": {"datum": 706.8}}},
            {"data": {"name": "ppp_sig"}, "mark": {"type": "rule", "color": "#000", "strokeWidth": 2.2, "xOffset": 4}, "encoding": {"x": {"field": "to", "type": "nominal"}, "y": {"datum": 650.5}, "y2": {"datum": 706.8}}},
            {"data": {"name": "ppp_sig"}, "transform": [{"filter": "datum.sig != 'ns'"}], "mark": {"type": "text", "fontSize": 15, "color": "#888", "dx": 36, "dy": 5}, "encoding": {"x": {"field": "from", "type": "nominal"}, "y": {"datum": 773.7}, "text": {"field": "sig"}}},
            {"data": {"name": "ppp_sig"}, "transform": [{"filter": "datum.sig == 'ns'"}], "mark": {"type": "text", "fontSize": 14, "color": "#333", "dx": 35}, "encoding": {"x": {"field": "from", "type": "nominal"}, "y": {"datum": 770}, "text": {"field": "sig"}}},
            {"data": {"name": "geno"}, "transform": [{"filter": "datum.from == 'Glut1-'"}], "mark": {"type": "rule", "color": "#000", "strokeWidth": 1.5, "xOffset": -31, "x2Offset": 19}, "encoding": {"x": {"field": "from", "type": "nominal"}, "x2": {"field": "to"}, "y": {"datum": -130}}},
            {"data": {"name": "geno"}, "transform": [{"filter": "datum.from == 'WT-'"}], "mark": {"type": "rule", "color": "#000", "strokeWidth": 1.5, "xOffset": -11.5, "x2Offset": 33.5}, "encoding": {"x": {"field": "from", "type": "nominal"}, "x2": {"field": "to"}, "y": {"datum": -130}}},
            {"data": {"name": "geno"}, "transform": [{"filter": "datum.from == 'Glut1-'"}], "mark": {"type": "text", "fontSize": 13, "color": "#111", "dx": 26.7}, "encoding": {"x": {"field": "from", "type": "nominal"}, "y": {"datum": -213}, "text": {"field": "name"}}},
            {"data": {"name": "geno"}, "transform": [{"filter": "datum.from == 'WT-'"}], "mark": {"type": "text", "fontSize": 13, "color": "#111", "dx": 41.5}, "encoding": {"x": {"field": "from", "type": "nominal"}, "y": {"datum": -213}, "text": {"field": "name"}}},
            {"data": {"values": [{"label": "4OHT"}]}, "mark": {"type": "text", "fontSize": 15, "color": "#111", "align": "right", "dx": -61}, "encoding": {"x": {"datum": "Glut1-"}, "y": {"datum": -95}, "text": {"field": "label"}}},
            {"data": {"values": [{"label": "b"}]}, "mark": {"type": "text", "fontSize": 18, "fontWeight": "bold", "color": "#000", "align": "left", "dx": -137}, "encoding": {"x": {"datum": "Glut1-"}, "y": {"datum": 858}, "text": {"field": "label"}}}
          ]
        },
        {
          "width": 266, "height": 130,
          "title": {"text": "Palmitate Oxidation", "anchor": "middle", "dx": -14, "offset": -18.1, "fontSize": 13},
          "layer": [
            {"data": {"name": "pal"}, "mark": "bar", "encoding": {
              "x": {"field": "cond", "type": "nominal", "scale": {"domain": ["Glut1-", "Glut1+", "WT-", "WT+"], "paddingInner": 0.44, "paddingOuter": 0.235}, "axis": {"title": null, "tickSize": 4, "tickOffset": 33, "labelOffset": -33, "labelPadding": 4, "labelFontSize": 14, "labelExpr": "indexof(datum.value, '+') >= 0 ? '+' : '-'"}},
              "y": {"field": "v", "type": "quantitative", "scale": {"domain": [0, 400], "nice": false}, "axis": {"title": "CPM/Million cells", "values": [0, 100, 200, 300, 400], "tickCount": 20, "labelOverlap": false}},
              "color": {"field": "group", "type": "nominal", "scale": {"domain": ["Vehicle", "4-OHT"], "range": ["#000000", "#dc2a0c"]}, "legend": null}}},
            {"data": {"name": "pal"}, "mark": {"type": "rule", "color": "#000", "strokeWidth": 1.3}, "encoding": {"x": {"field": "cond", "type": "nominal"}, "y": {"field": "lo", "type": "quantitative"}, "y2": {"field": "hi"}}},
            {"data": {"name": "pal"}, "mark": {"type": "tick", "orient": "horizontal", "color": "#000", "size": 11, "thickness": 1.3}, "encoding": {"x": {"field": "cond", "type": "nominal"}, "y": {"field": "hi", "type": "quantitative"}}},
            {"data": {"name": "pal"}, "mark": {"type": "tick", "orient": "horizontal", "color": "#000", "size": 11, "thickness": 1.3}, "encoding": {"x": {"field": "cond", "type": "nominal"}, "y": {"field": "lo", "type": "quantitative"}}},
            {"data": {"name": "pal_sig"}, "mark": {"type": "rule", "color": "#000", "strokeWidth": 2.2, "strokeCap": "square", "xOffset": 1, "x2Offset": 1}, "encoding": {"x": {"field": "from", "type": "nominal"}, "x2": {"field": "to"}, "y": {"datum": 404}}},
            {"data": {"name": "pal_sig"}, "mark": {"type": "rule", "color": "#000", "strokeWidth": 2.2, "xOffset": 1}, "encoding": {"x": {"field": "from", "type": "nominal"}, "y": {"datum": 371}, "y2": {"datum": 404}}},
            {"data": {"name": "pal_sig"}, "mark": {"type": "rule", "color": "#000", "strokeWidth": 2.2, "xOffset": 1}, "encoding": {"x": {"field": "to", "type": "nominal"}, "y": {"datum": 371}, "y2": {"datum": 404}}},
            {"data": {"name": "pal_sig"}, "transform": [{"filter": "datum.sig != 'ns'"}], "mark": {"type": "text", "fontSize": 15, "color": "#888", "dx": 33, "dy": 5}, "encoding": {"x": {"field": "from", "type": "nominal"}, "y": {"datum": 429.5}, "text": {"field": "sig"}}},
            {"data": {"name": "pal_sig"}, "transform": [{"filter": "datum.sig == 'ns'"}], "mark": {"type": "text", "fontSize": 13.5, "color": "#333", "dx": 33}, "encoding": {"x": {"field": "from", "type": "nominal"}, "y": {"datum": 431}, "text": {"field": "sig"}}},
            {"data": {"name": "geno"}, "transform": [{"filter": "datum.from == 'Glut1-'"}], "mark": {"type": "rule", "color": "#000", "strokeWidth": 1.5, "xOffset": -27.8, "x2Offset": 20.8}, "encoding": {"x": {"field": "from", "type": "nominal"}, "x2": {"field": "to"}, "y": {"datum": -80}}},
            {"data": {"name": "geno"}, "transform": [{"filter": "datum.from == 'WT-'"}], "mark": {"type": "rule", "color": "#000", "strokeWidth": 1.5, "xOffset": -10.3, "x2Offset": 36.8}, "encoding": {"x": {"field": "from", "type": "nominal"}, "x2": {"field": "to"}, "y": {"datum": -80}}},
            {"data": {"name": "geno"}, "transform": [{"filter": "datum.from == 'Glut1-'"}], "mark": {"type": "text", "fontSize": 13, "color": "#111", "dx": 29.2}, "encoding": {"x": {"field": "from", "type": "nominal"}, "y": {"datum": -123.7}, "text": {"field": "name"}}},
            {"data": {"name": "geno"}, "transform": [{"filter": "datum.from == 'WT-'"}], "mark": {"type": "text", "fontSize": 13, "color": "#111", "dx": 24.2}, "encoding": {"x": {"field": "from", "type": "nominal"}, "y": {"datum": -123.7}, "text": {"field": "name"}}},
            {"data": {"values": [{"label": "4OHT"}]}, "mark": {"type": "text", "fontSize": 15, "color": "#111", "align": "right", "dx": -59}, "encoding": {"x": {"datum": "Glut1-"}, "y": {"datum": -47}, "text": {"field": "label"}}},
            {"data": {"values": [{"label": "c"}]}, "mark": {"type": "text", "fontSize": 18, "fontWeight": "bold", "color": "#000", "align": "left", "dx": -85}, "encoding": {"x": {"datum": "Glut1-"}, "y": {"datum": 496.6}, "text": {"field": "label"}}}
          ]
        }
      ]
    }
  ]
}
